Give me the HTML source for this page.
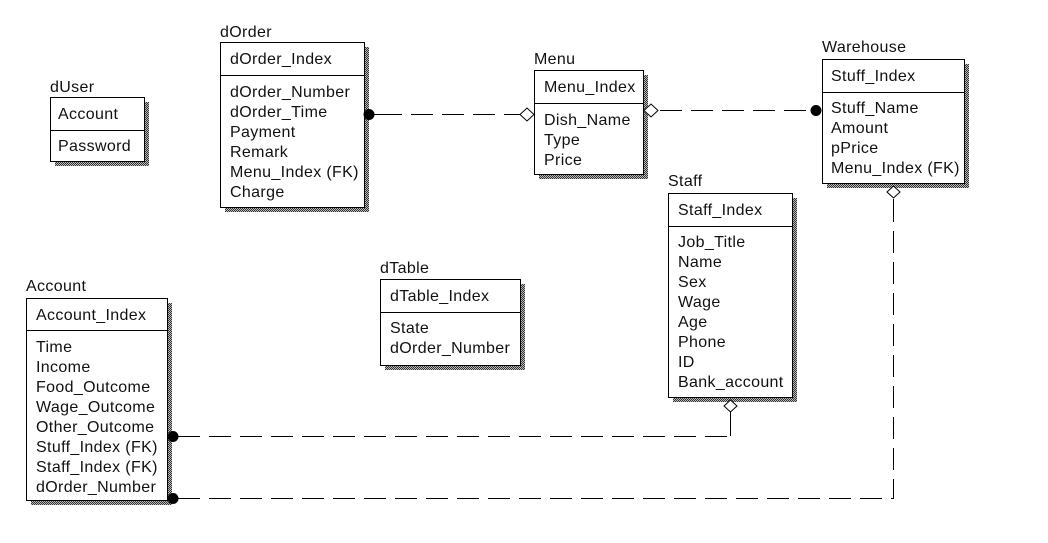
<!DOCTYPE html>
<html><head><meta charset="utf-8"><style>
html,body{margin:0;padding:0;background:#fff;}
svg text{font-family:"Liberation Sans",Arial,sans-serif;font-size:16px;letter-spacing:0.35px;fill:#111;}
</style></head><body>
<svg width="1048" height="538" viewBox="0 0 1048 538" xmlns="http://www.w3.org/2000/svg">
<defs>
<pattern id="sh" width="2" height="2" patternUnits="userSpaceOnUse">
<rect width="2" height="2" fill="#bbb"/><rect width="1" height="1" fill="#333"/><rect x="1" y="1" width="1" height="1" fill="#333"/>
</pattern>
</defs>
<g stroke="#000" stroke-width="1">
<g stroke="none" fill="url(#sh)">
<rect x="55" y="102" width="94" height="64"/>
<rect x="225" y="47" width="144" height="165"/>
<rect x="539" y="75" width="109" height="104"/>
<rect x="827" y="64" width="142" height="124"/>
<rect x="673" y="198" width="124" height="204"/>
<rect x="385" y="284" width="140" height="86"/>
<rect x="31" y="303" width="141" height="202"/>
</g>
<g fill="#fff">
<rect x="50.5" y="97.5" width="94" height="64"/>
<rect x="220.5" y="42.5" width="144" height="165"/>
<rect x="534.5" y="70.5" width="109" height="104"/>
<rect x="822.5" y="59.5" width="142" height="124"/>
<rect x="668.5" y="193.5" width="124" height="204"/>
<rect x="380.5" y="279.5" width="140" height="86"/>
<rect x="26.5" y="298.5" width="141" height="202"/>
</g>
<line x1="50" y1="130.5" x2="145" y2="130.5"/>
<line x1="220" y1="75.5" x2="365" y2="75.5"/>
<line x1="534" y1="103.5" x2="644" y2="103.5"/>
<line x1="822" y1="92.5" x2="965" y2="92.5"/>
<line x1="668" y1="226.5" x2="793" y2="226.5"/>
<line x1="380" y1="312.5" x2="521" y2="312.5"/>
<line x1="26" y1="330.5" x2="168" y2="330.5"/>
<g fill="none" stroke-dasharray="22,9">
<line x1="380" y1="114.5" x2="522" y2="114.5"/>
<line x1="660" y1="110.5" x2="810" y2="110.5"/>
<path d="M178 436.5 H730"/>
<path d="M178 498.5 H893.5 V200"/>
</g>
<line x1="370" y1="114.5" x2="380" y2="114.5"/>
<line x1="730.5" y1="436" x2="730.5" y2="412"/>
<line x1="893.5" y1="212" x2="893.5" y2="199"/>
<g fill="#000">
<circle cx="369" cy="114.5" r="5"/>
<circle cx="816" cy="110.5" r="5"/>
<circle cx="173" cy="436.5" r="5"/>
<circle cx="173" cy="498.5" r="5"/>
</g>
<g fill="#fff">
<path d="M534 114.5 L527 108 L520 114.5 L527 121 Z"/>
<path d="M644 110.5 L651 104 L658 110.5 L651 117 Z"/>
<path d="M730.5 400 L724 406 L730.5 412 L737 406 Z"/>
<path d="M893.5 186 L887 192 L893.5 198 L900 192 Z"/>
</g>
</g>
<text x="50" y="92">dUser</text>
<text x="58" y="119">Account</text>
<text x="58" y="151">Password</text>

<text x="220" y="37">dOrder</text>
<text x="230" y="64">dOrder_Index</text>
<text x="230" y="97">dOrder_Number</text>
<text x="230" y="117">dOrder_Time</text>
<text x="230" y="137">Payment</text>
<text x="230" y="157">Remark</text>
<text x="230" y="177">Menu_Index (FK)</text>
<text x="230" y="197">Charge</text>

<text x="534" y="64">Menu</text>
<text x="544" y="92">Menu_Index</text>
<text x="544" y="125">Dish_Name</text>
<text x="544" y="145">Type</text>
<text x="544" y="165">Price</text>

<text x="822" y="52">Warehouse</text>
<text x="831" y="81">Stuff_Index</text>
<text x="831" y="113">Stuff_Name</text>
<text x="831" y="133">Amount</text>
<text x="831" y="153">pPrice</text>
<text x="831" y="173">Menu_Index (FK)</text>

<text x="668" y="186">Staff</text>
<text x="678" y="215">Staff_Index</text>
<text x="678" y="247">Job_Title</text>
<text x="678" y="267">Name</text>
<text x="678" y="287">Sex</text>
<text x="678" y="307">Wage</text>
<text x="678" y="327">Age</text>
<text x="678" y="347">Phone</text>
<text x="678" y="367">ID</text>
<text x="678" y="387">Bank_account</text>

<text x="380" y="273">dTable</text>
<text x="390" y="301">dTable_Index</text>
<text x="390" y="333">State</text>
<text x="390" y="353">dOrder_Number</text>

<text x="26" y="291">Account</text>
<text x="36" y="320">Account_Index</text>
<text x="36" y="352">Time</text>
<text x="36" y="372">Income</text>
<text x="36" y="392">Food_Outcome</text>
<text x="36" y="412">Wage_Outcome</text>
<text x="36" y="432">Other_Outcome</text>
<text x="36" y="452">Stuff_Index (FK)</text>
<text x="36" y="472">Staff_Index (FK)</text>
<text x="36" y="492">dOrder_Number</text>
</svg>
</body></html>
